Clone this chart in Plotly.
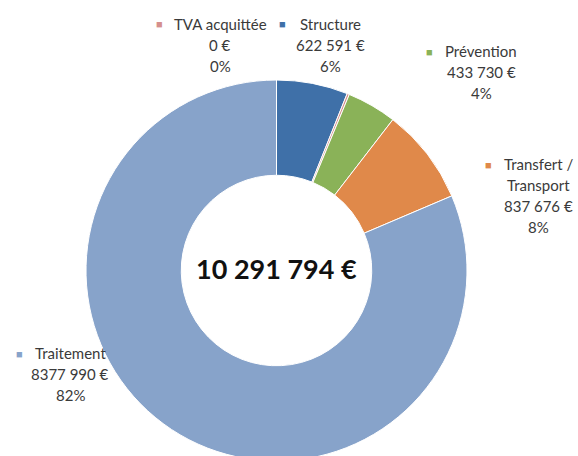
import plotly.graph_objects as go

# ---- data ----
categories = ["Structure", "TVA acquittée", "Prévention", "Transfert / Transport", "Traitement"]
values = [622591, 19807, 433730, 837676, 8377990]
amount_labels = ["622 591 €", "0 €", "433 730 €", "837 676 €", "8377 990 €"]
percent_labels = ["6%", "0%", "4%", "8%", "82%"]
name_lines = [["Structure"], ["TVA acquittée"], ["Prévention"], ["Transfert /", "Transport"], ["Traitement"]]
total_label = "10 291 794 €"

colors = ["#3F70A8", "#D58F8D", "#8AB258", "#E0894A", "#87A3CA"]

# figure slightly taller than the window so the bottom of the ring is clipped as in the reference
W, H = 578, 461
FONT = "Lato"
TXT = "#3a3a3a"

# donut geometry (pixels)
cx, top = 276.5, 80
r = (H - top) / 2
fig = go.Figure(go.Pie(
    labels=categories, values=values, hole=0.5, sort=False,
    direction="clockwise", rotation=0,
    marker=dict(colors=colors, line=dict(color="white", width=1)),
    textinfo="none", showlegend=False,
    domain=dict(x=[(cx - r) / W, (cx + r) / W], y=[0, (H - top) / H]),
))

def ann(px, py, text, size=15, color=TXT, bold=False):
    fig.add_annotation(x=px / W, y=1 - py / H, xref="paper", yref="paper",
                       text=f"<b>{text}</b>" if bold else text, showarrow=False,
                       xanchor="center", yanchor="middle",
                       font=dict(family=FONT, size=size, color=color))

# label block positions: (marker x, text center x, first line y)
label_pos = [(282.5, 330, 24), (159, 220, 24), (429, 481, 51), (488.5, 538, 164), (19, 70, 353)]
step = 21
for i, (mx, tx, y0) in enumerate(label_pos):
    lines = name_lines[i] + [amount_labels[i], percent_labels[i]]
    ann(mx, y0, "■", size=11, color=colors[i])
    for k, line in enumerate(lines):
        ann(tx, y0 + k * step, line)

ann(276, 268, total_label, size=27, color="#111111", bold=True)

fig.update_layout(width=W, height=H, margin=dict(l=0, r=0, t=0, b=0),
                  paper_bgcolor="white", plot_bgcolor="white")
fig.write_html("out.html", config={"displayModeBar": False},
               post_script="document.body.style.margin='0';document.body.style.overflow='hidden';"
                           "document.documentElement.style.overflow='hidden';")
